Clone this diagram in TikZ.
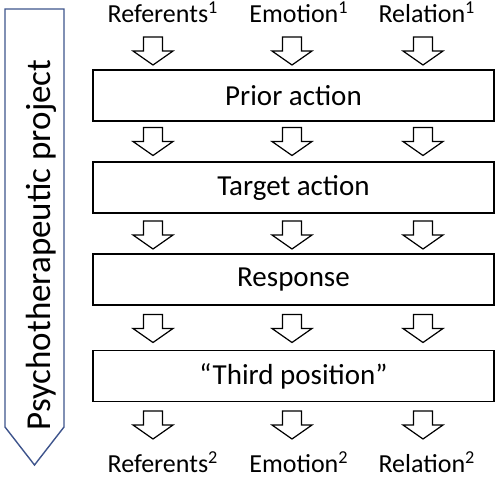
\documentclass[tikz,border=0pt]{standalone}
\usepackage{fontspec}
\setmainfont{Carlito}
\usetikzlibrary{positioning}
\definecolor{projblue}{RGB}{62,84,140}

\tikzset{
  stage/.style={draw, line width=0.9pt, minimum width=200.5pt, minimum height=25.5pt, inner sep=0pt, font=\fontsize{14.5}{17}\selectfont},
  lbl/.style={anchor=base, inner sep=0pt, font=\fontsize{13}{15}\selectfont},
  blockarr/.style={draw, line width=0.6pt, fill=white, line join=miter},
  downarr/.pic={\draw[blockarr] (-9.5,-14) -- (9.5,-14) -- (9.5,0) -- (20,0) -- (0,14) -- (-20,0) -- (-9.5,0) -- cycle;}
}

\begin{document}
\begin{tikzpicture}[x=0.5pt,y=-0.5pt]
\useasboundingbox (0,0) rectangle (500,478);

% project arrow on the left
\draw[projblue, line width=0.7pt] (5,9) -- (64,9) -- (64,427) -- (34.5,465) -- (5,427) -- cycle;
\node[rotate=90, anchor=base, inner sep=0pt, font=\fontsize{17.5}{20}\selectfont] (project) at (50,245) {Psychotherapeutic project};

\node[lbl] (ref1) at (163,22) {Referents\textsuperscript{1}};
\node[lbl] (emo1) at (299,22) {Emotion\textsuperscript{1}};
\node[lbl] (rel1) at (427,22) {Relation\textsuperscript{1}};

\node[stage] (prior) at (293.5,95.5) {Prior action};
\node[stage] (target) at (293.5,187.5) {Target action};
\node[stage] (response) at (293.5,279.5) {Response};
\node[stage] (third) at (293.5,376) {``Third position''};

\node[lbl] (ref2) at (163,472) {Referents\textsuperscript{2}};
\node[lbl] (emo2) at (299,472) {Emotion\textsuperscript{2}};
\node[lbl] (rel2) at (427,472) {Relation\textsuperscript{2}};

% block arrows between the rows
\foreach \y in {51,141.5,235,328.5,425}
  \foreach \x in {153,292,423}
    \pic at (\x,\y) {downarr};
\end{tikzpicture}
\end{document}
